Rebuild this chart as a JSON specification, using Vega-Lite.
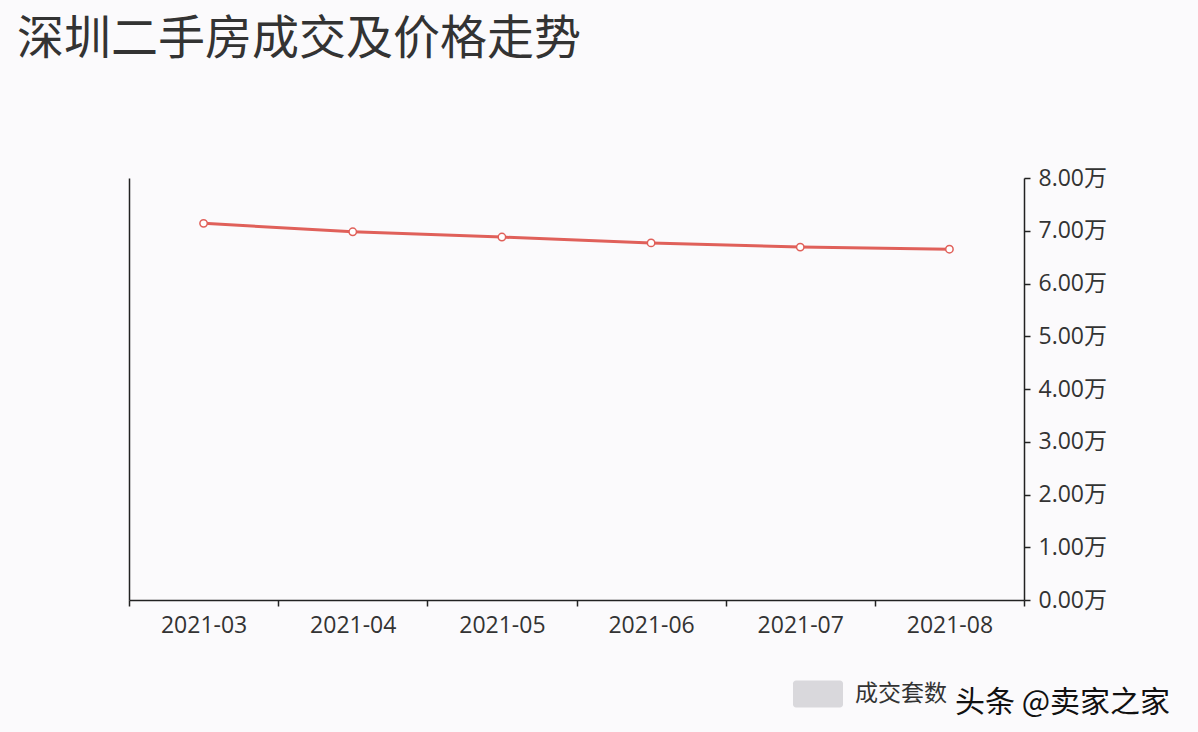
{
  "$schema": "https://vega.github.io/schema/vega-lite/v6.json",
  "autosize": {"type": "none"},
  "width": 895,
  "height": 422,
  "padding": {"left": 129, "top": 178, "right": 174, "bottom": 132},
  "background": "#fbfafc",
  "title": {
    "text": "深圳二手房成交及价格走势",
    "anchor": "start",
    "frame": "group",
    "font": "Noto Sans CJK SC",
    "fontSize": 47,
    "fontWeight": "normal",
    "color": "#333333",
    "dx": -112,
    "offset": 56,
    "baseline": "bottom",
    "limit": 1000
  },
  "config": {
    "view": {"stroke": null},
    "font": "Noto Sans CJK SC",
    "axis": {"labelFont": "Open Sans, Noto Sans CJK SC", "labelFontSize": 23, "labelColor": "#333333", "domainColor": "#222222", "tickColor": "#222222", "domainWidth": 1.5, "tickWidth": 1.5, "grid": false, "title": null, "labelOverlap": false}
  },
  "data": {
    "values": [
      {"month": "2021-03", "price": 7.14, "count": 0, "series": "成交套数"},
      {"month": "2021-04", "price": 6.98, "count": 0, "series": "成交套数"},
      {"month": "2021-05", "price": 6.88, "count": 0, "series": "成交套数"},
      {"month": "2021-06", "price": 6.77, "count": 0, "series": "成交套数"},
      {"month": "2021-07", "price": 6.69, "count": 0, "series": "成交套数"},
      {"month": "2021-08", "price": 6.65, "count": 0, "series": "成交套数"}
    ]
  },
  "encoding": {
    "x": {
      "field": "month",
      "type": "ordinal",
      "scale": {"paddingInner": 0, "paddingOuter": 0},
      "axis": {"labelAngle": 0, "tickBand": "extent", "tickSize": 6, "labelPadding": 8, "domain": true}
    }
  },
  "layer": [
    {
      "mark": {"type": "bar", "width": {"band": 0.6}},
      "encoding": {
        "y": {"field": "count", "type": "quantitative", "scale": {"domain": [0, 1]}, "axis": {"orient": "left", "labels": false, "ticks": false, "domain": true}},
        "color": {
          "field": "series",
          "type": "nominal",
          "scale": {"range": ["#d9d8dc"]},
          "legend": {
            "orient": "none",
            "legendX": 664,
            "legendY": 491,
            "title": "头条 @卖家之家",
            "titleOrient": "right",
            "titleFont": "Noto Sans CJK SC",
            "titleFontSize": 30,
            "titleFontWeight": "normal",
            "titleColor": "#111111",
            "titlePadding": 8,
            "titleBaseline": "top",
            "titleLimit": 400,
            "padding": 0,
            "labelFont": "Noto Sans CJK SC",
            "labelFontSize": 23,
            "labelColor": "#333333",
            "labelOffset": 12,
            "labelLimit": 300,
            "symbolType": "M-0.88,-0.54 H0.88 A0.12,0.12 0 0 1 1,-0.42 V0.42 A0.12,0.12 0 0 1 0.88,0.54 H-0.88 A0.12,0.12 0 0 1 -1,0.42 V-0.42 A0.12,0.12 0 0 1 -0.88,-0.54 Z",
            "symbolSize": 2500,
            "symbolStrokeWidth": 0,
            "symbolOpacity": 1
          }
        }
      }
    },
    {
      "mark": {"type": "line", "color": "#e0605a", "strokeWidth": 3, "point": {"filled": true, "fill": "white", "stroke": "#e0605a", "strokeWidth": 1.5, "size": 55}},
      "encoding": {
        "y": {
          "field": "price",
          "type": "quantitative",
          "scale": {"domain": [0, 8]},
          "axis": {"orient": "right", "values": [0, 1, 2, 3, 4, 5, 6, 7, 8], "labelExpr": "format(datum.value, '.2f') + '万'", "tickSize": 6, "labelPadding": 8}
        }
      }
    }
  ],
  "resolve": {"scale": {"y": "independent"}}
}
